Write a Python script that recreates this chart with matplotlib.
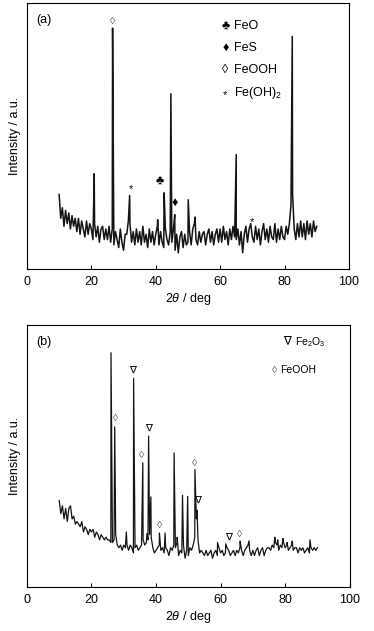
import numpy as np
import matplotlib.pyplot as plt

plt.rcParams['font.family'] = ['Liberation Sans', 'DejaVu Sans']
plt.rcParams['mathtext.fontset'] = 'custom'
plt.rcParams['mathtext.rm'] = 'Liberation Sans'
plt.rcParams['mathtext.it'] = 'Liberation Sans:italic'

# 2theta grid of the measured trace (deg)
TH = np.arange(10, 90.01, 0.5)

# (a) trace level between peaks, read every 0.5 deg
BASE_A = [28, 19, 23, 16, 22, 17, 21, 15, 20, 16,
          19, 14, 19, 13, 18, 15, 12, 18, 13, 17,
          15, 11, 17, 12, 16, 10, 15, 16, 11, 15,
          11, 16, 10, 15, 9, 14, 11, 8, 15, 10,
          7, 13, 13, 18, 17, 10, 14, 9, 15, 10,
          14, 9, 16, 10, 13, 8, 15, 10, 14, 9,
          13, 16, 9, 14, 10, 8, 15, 11, 9, 14,
          10, 15, 7, 13, 6, 12, 14, 8, 13, 9,
          10, 14, 9, 15, 17, 11, 9, 14, 10, 13,
          14, 9, 13, 15, 10, 14, 9, 13, 15, 10,
          15, 10, 16, 11, 14, 9, 15, 11, 16, 12,
          11, 15, 9, 14, 6, 13, 16, 10, 15, 17,
          12, 10, 16, 11, 15, 9, 14, 17, 11, 15,
          10, 16, 12, 11, 17, 10, 15, 11, 16, 12,
          11, 16, 13, 17, 24, 28, 15, 11, 17, 12,
          18, 12, 17, 11, 18, 13, 17, 12, 18, 14,
          16]
PEAK_POS_A = [20.9, 26.6, 31.9, 40.6, 42.6, 44.7, 45.9, 50.1, 52.2, 65.0, 82.4]
PEAK_H_A = [35.8, 90.6, 27.6, 18.5, 28.6, 65.9, 20.4, 26.0, 19.5, 43.0, 87.5]

# (b)
BASE_B = [33, 28, 31, 26, 30, 25, 30, 31, 26, 27,
          24, 25, 24, 23, 25, 21, 23, 22, 20, 22,
          21, 22, 19, 21, 20, 18, 20, 19, 18, 19,
          18, 18, 17, 17, 18, 20, 16, 15, 16, 14,
          16, 15, 16, 14, 16, 15, 13, 15, 16, 14,
          15, 16, 18, 16, 17, 18, 20, 19, 15, 13,
          14, 15, 16, 14, 15, 13, 15, 14, 12, 15,
          14, 16, 15, 17, 12, 14, 13, 16, 11, 14,
          12, 15, 14, 16, 19, 26, 18, 13, 14, 13,
          12, 14, 12, 13, 14, 11, 13, 14, 12, 15,
          13, 14, 12, 13, 15, 14, 12, 13, 14, 12,
          14, 13, 15, 14, 12, 14, 15, 16, 14, 12,
          14, 12, 14, 15, 12, 14, 15, 12, 14, 15,
          15, 14, 16, 15, 17, 16, 14, 16, 15, 17,
          15, 16, 14, 15, 16, 14, 15, 15, 13, 15,
          14, 15, 13, 14, 15, 13, 15, 14, 15, 14,
          15]
PEAK_POS_B = [26.05, 27.2, 30.8, 33.05, 35.9, 37.2, 37.7, 38.4, 41.05, 42.8,
              45.6, 46.55, 48.2, 49.8, 52.05, 52.7, 59.05, 61.6, 66.05, 68.8,
              76.8, 77.7, 79.3, 80.6, 82.2, 87.7]
PEAK_H_B = [89.4, 61.1, 21.0, 79.6, 47.4, 20.4, 57.6, 34.4, 20.6, 20.6,
            51.2, 19.0, 35.0, 34.6, 44.8, 29.3, 17.0, 16.5, 17.5, 17.6,
            19.0, 18.0, 18.5, 17.0, 17.5, 18.0]

# phase markers: (symbol, 2theta, height)
MARK_A = [('\u25ca', 26.6, 93.4), ('*', 32.2, 30.0), ('\u2663', 41.3, 33.0),
          ('\u2666', 46.0, 24.8), ('*', 69.8, 17.5)]
LEG_A = [('\u2663', 'FeO'), ('\u2666', 'FeS'), ('\u25ca', 'FeOOH'),
         ('*', 'Fe(OH)$_2$')]
MARK_B = [('\u2207', 32.6, 83.0), ('\u25ca', 27.6, 64.6), ('\u2207', 37.7, 60.9),
          ('\u25ca', 35.6, 50.3), ('\u25ca', 52.0, 47.5), ('\u2207', 53.0, 33.1),
          ('\u25ca', 41.0, 23.7), ('\u2207', 62.4, 19.1), ('\u25ca', 66.0, 20.1)]
LEG_B = [('\u2207', 'Fe$_2$O$_3$'), ('\u25ca', 'FeOOH')]


def trace(base, pos, h):
    x = np.concatenate([TH, pos])
    y = np.concatenate([base, h])
    o = np.argsort(x)
    return x[o], y[o]


fig = plt.figure(figsize=(3.74, 6.31), dpi=100)
ax_a = fig.add_axes([0.072, 0.574, 0.861, 0.421])
ax_b = fig.add_axes([0.072, 0.0697, 0.863, 0.4153])

panels = [(ax_a, BASE_A, PEAK_POS_A, PEAK_H_A, MARK_A, 1.1, '(a)'),
          (ax_b, BASE_B, PEAK_POS_B, PEAK_H_B, MARK_B, 0.9, '(b)')]

for ax, base, pos, h, marks, lw, lab in panels:
    x, y = trace(base, pos, h)
    ax.plot(x, y, color='#141414', lw=lw)
    ax.set_xlim(0, 100)
    ax.set_ylim(0, 100)
    ax.set_xticks([0, 20, 40, 60, 80, 100])
    ax.set_yticks([])
    ax.tick_params(axis='x', direction='in', length=3, width=0.8,
                   labelsize=9, pad=5)
    for s in ax.spines.values():
        s.set_linewidth(0.8)
    ax.set_xlabel(r'2$\mathit{\theta}$ / deg', fontsize=9, labelpad=2)
    ax.set_ylabel('Intensity / a.u.', fontsize=9, labelpad=4)
    ax.text(3.0, 93.5, lab, fontsize=9, va='center')
    for sym, px, py in marks:
        fs = 8 if sym == '*' else (9 if sym in '\u2663\u2666' else 7.5)
        col = '#555555' if sym == '\u25ca' else 'black'
        ax.text(px, py, sym, ha='center', va='center', fontsize=fs, color=col)

for i, (sym, name) in enumerate(LEG_A):
    yy = 91.5 - i * 8.4
    fs = 8 if sym == '*' else 9
    ax_a.text(61.6, yy - (1.0 if sym == '*' else 0), sym, ha='center',
              va='center', fontsize=fs)
    ax_a.text(64.3, yy, name, ha='left', va='center', fontsize=9)

ax_b.text(80.7, 93.6, '\u2207', ha='center', va='center', fontsize=8.5)
ax_b.text(83.0, 93.6, LEG_B[0][1], ha='left', va='center', fontsize=7.5)
ax_b.text(76.8, 83.0, '\u25ca', ha='center', va='center', fontsize=7.5,
          color='#555555')
ax_b.text(78.6, 83.0, LEG_B[1][1], ha='left', va='center', fontsize=7.5)

fig.savefig('out.png', dpi=100)
